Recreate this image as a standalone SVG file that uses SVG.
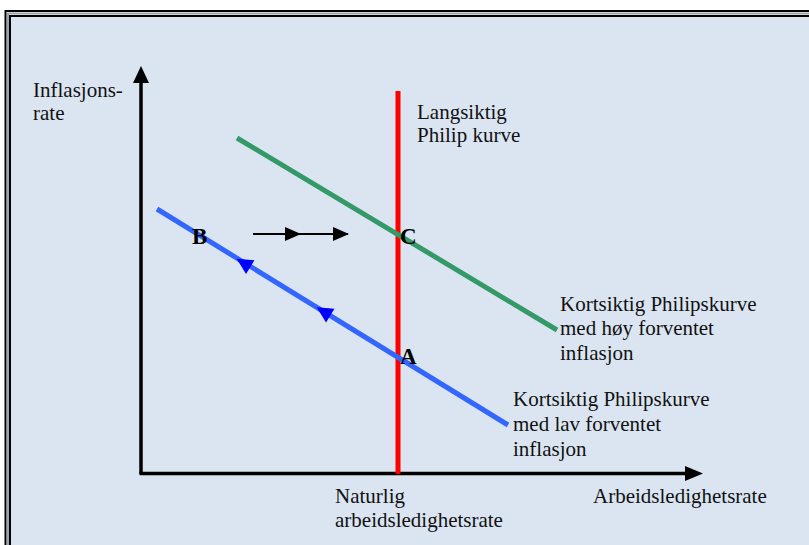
<svg xmlns="http://www.w3.org/2000/svg" width="809" height="545" viewBox="0 0 809 545">
<style>
.t{font-family:'Liberation Serif','Times New Roman',Times,serif;font-size:21px;fill:#111}
.b{font-family:'Liberation Serif','Times New Roman',Times,serif;font-size:23px;font-weight:bold;fill:#000}
.ax{stroke:#000;stroke-width:3.5;fill:none}
</style>
<defs>
<path id="bh" d="M-11,0 L5,-8 L5,8 Z" fill="#0000ff"/>
<path id="kh" d="M0,0 L-16,-7 L-16,7 Z" fill="#000"/>
</defs>
<rect x="0" y="0" width="809" height="545" fill="#ffffff"/>
<rect x="10" y="16" width="799" height="529" fill="#dbe5f1"/>
<g id="frame" fill="none">
<path d="M5.5,545 V11 H809" stroke="#000" stroke-width="2"/>
<path d="M8,545 V13.5 H809" stroke="#9aa3ad" stroke-width="2"/>
<path d="M10,545 V16 H809" stroke="#000" stroke-width="2"/>
</g>
<g id="axes">
<path class="ax" d="M141,474 V80"/>
<polygon points="141,66 133,83 149,83" fill="#000"/>
<path class="ax" d="M139.5,473.5 H688"/>
<polygon points="703,473.5 685,466 685,481" fill="#000"/>
</g>
<g id="connectors">
<line id="lrpc" x1="398" y1="91" x2="398" y2="474" stroke="#ff0000" stroke-width="5"/>
<line id="srpc-high" x1="237" y1="138" x2="557" y2="330" stroke="#339966" stroke-width="5"/>
<line id="srpc-low" x1="157" y1="209" x2="508" y2="425" stroke="#3366ff" stroke-width="5"/>
<use href="#bh" transform="translate(246,264.5) rotate(31.6)"/>
<use href="#bh" transform="translate(326,313) rotate(31.6)"/>
<line x1="253" y1="234" x2="348" y2="234" stroke="#000" stroke-width="2"/>
<use href="#kh" transform="translate(301,234)"/>
<use href="#kh" transform="translate(349,234)"/>
</g>
<g id="labels" font-family="Liberation Serif, serif">
<text class="t" x="33" y="97">Inflasjons-</text>
<text class="t" x="33" y="120">rate</text>
<text class="t" x="417" y="119">Langsiktig</text>
<text class="t" x="417" y="142">Philip kurve</text>
<text class="t" x="560" y="311">Kortsiktig Philipskurve</text>
<text class="t" x="560" y="335">med høy forventet</text>
<text class="t" x="560" y="360">inflasjon</text>
<text class="t" x="513" y="406">Kortsiktig Philipskurve</text>
<text class="t" x="513" y="431">med lav forventet</text>
<text class="t" x="513" y="456">inflasjon</text>
<text class="t" x="335" y="503">Naturlig</text>
<text class="t" x="335" y="527">arbeidsledighetsrate</text>
<text class="t" x="593" y="503">Arbeidsledighetsrate</text>
</g>
<g id="points" font-family="Liberation Serif, serif">
<text class="b" x="192" y="244">B</text>
<text class="b" x="400" y="244">C</text>
<text class="b" x="400" y="364">A</text>
</g>
</svg>
